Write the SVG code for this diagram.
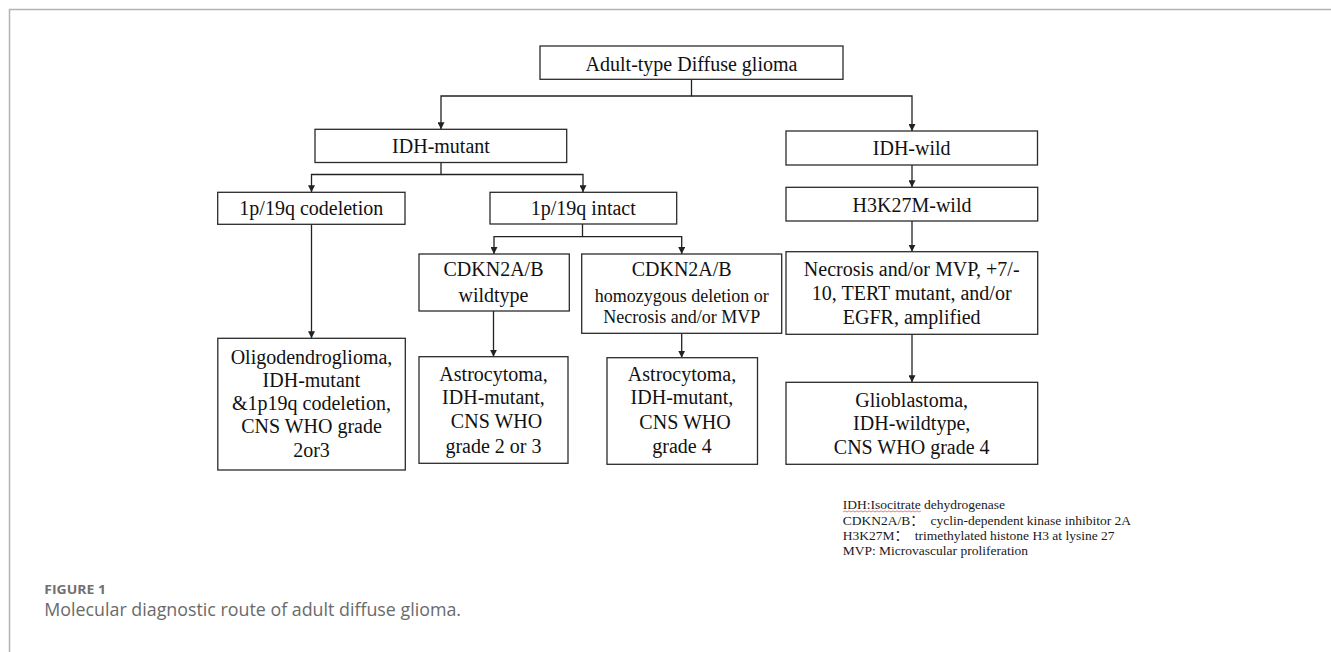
<svg xmlns="http://www.w3.org/2000/svg" width="1331" height="652" viewBox="0 0 1331 652">
  <style>
    .box { fill: #ffffff; stroke: #2b2b2b; stroke-width: 1.3; }
    .t { font-family: "Liberation Serif", "Times New Roman", serif; font-size: 20px; fill: #111; text-anchor: middle; }
    .ts { font-family: "Liberation Serif", "Times New Roman", serif; font-size: 18px; fill: #111; text-anchor: middle; }
    .leg { font-family: "Liberation Serif", "Noto Sans CJK SC", serif; font-size: 13.5px; fill: #1a1a1a; }
    .conn path { fill: none; stroke: #222; stroke-width: 1.3; marker-end: url(#arr); }
    .frame { fill: none; stroke: #b3b3b3; stroke-width: 1.5; }
  </style>
  <defs>
    <marker id="arr" viewBox="0 0 8 8" refX="8" refY="4" markerWidth="7" markerHeight="7" markerUnits="userSpaceOnUse" orient="auto">
      <path d="M0,0 L8,4 L0,8 z" fill="#222"/>
    </marker>
  </defs>
  <rect width="1331" height="652" fill="#ffffff"/>
  <path class="frame" d="M1331 9.5 H9.5 V652"/>

  <g id="connectors" class="conn">
    <path d="M691.5 79.5 V96 H441 V129.3"/>
    <path d="M691.5 96 H912 V131"/>
    <path d="M441 162.5 V174.5 H311.5 V192.3"/>
    <path d="M441 174.5 H583 V192.3"/>
    <path d="M311.5 224.3 V338.3"/>
    <path d="M582.5 224 V236.7 H494 V254"/>
    <path d="M582.5 236.7 H681.7 V254"/>
    <path d="M493.5 311 V356.7"/>
    <path d="M681.7 333.3 V357.7"/>
    <path d="M912 165 V187.3"/>
    <path d="M912 221 V251.7"/>
    <path d="M912 334.3 V382.3"/>
  </g>

  <g id="n-root">
    <rect class="box" x="540" y="46" width="303" height="33.3"/>
    <text class="t" x="691.5" y="71">Adult-type Diffuse glioma</text>
  </g>
  <g id="n-idh-mutant">
    <rect class="box" x="315" y="129.3" width="251.7" height="33.2"/>
    <text class="t" x="441" y="153">IDH-mutant</text>
  </g>
  <g id="n-idh-wild">
    <rect class="box" x="786" y="131" width="251.5" height="34"/>
    <text class="t" x="911.7" y="155">IDH-wild</text>
  </g>
  <g id="n-codeletion">
    <rect class="box" x="217.7" y="192.3" width="187.3" height="32"/>
    <text class="t" x="311.3" y="215">1p/19q codeletion</text>
  </g>
  <g id="n-intact">
    <rect class="box" x="490" y="192.3" width="186.7" height="31.7"/>
    <text class="t" x="583.3" y="215">1p/19q intact</text>
  </g>
  <g id="n-h3k27m">
    <rect class="box" x="786" y="187.3" width="251.7" height="33.7"/>
    <text class="t" x="912" y="211.7">H3K27M-wild</text>
  </g>
  <g id="n-cdkn-wild">
    <rect class="box" x="419" y="254" width="150.3" height="57"/>
    <text class="t" x="493.5" y="276">CDKN2A/B</text>
    <text class="t" x="493.5" y="301.7">wildtype</text>
  </g>
  <g id="n-cdkn-homo">
    <rect class="box" x="581.7" y="254" width="200" height="79.3"/>
    <text class="t" x="681.7" y="276">CDKN2A/B</text>
    <text class="ts" x="681.7" y="302">homozygous deletion or</text>
    <text class="ts" x="681.7" y="323.3">Necrosis and/or MVP</text>
  </g>
  <g id="n-necrosis">
    <rect class="box" x="786" y="251.7" width="251.7" height="82.6"/>
    <text class="t" x="911.7" y="276">Necrosis and/or MVP, +7/-</text>
    <text class="t" x="911.7" y="300">10, TERT mutant, and/or</text>
    <text class="t" x="911.7" y="324">EGFR, amplified</text>
  </g>
  <g id="n-oligo">
    <rect class="box" x="217.8" y="338.3" width="187.5" height="131.7"/>
    <text class="t" x="311.5" y="363.5">Oligodendroglioma,</text>
    <text class="t" x="311.5" y="386.8">IDH-mutant</text>
    <text class="t" x="311.5" y="410.1">&amp;1p19q codeletion,</text>
    <text class="t" x="311.5" y="433.4">CNS WHO grade</text>
    <text class="t" x="311.5" y="456.7">2or3</text>
  </g>
  <g id="n-astro-23">
    <rect class="box" x="419" y="356.7" width="149" height="106.6"/>
    <text class="t" x="493.5" y="380.7">Astrocytoma,</text>
    <text class="t" x="493.5" y="404">IDH-mutant,</text>
    <text class="t" x="496.5" y="428">CNS WHO</text>
    <text class="t" x="493.5" y="452.5">grade 2 or 3</text>
  </g>
  <g id="n-astro-4">
    <rect class="box" x="607" y="357.7" width="150.5" height="106.6"/>
    <text class="t" x="682" y="381">Astrocytoma,</text>
    <text class="t" x="682" y="404.3">IDH-mutant,</text>
    <text class="t" x="685" y="428.5">CNS WHO</text>
    <text class="t" x="682" y="453">grade 4</text>
  </g>
  <g id="n-glio">
    <rect class="box" x="786" y="382.3" width="251.7" height="82"/>
    <text class="t" x="911.7" y="406.7">Glioblastoma,</text>
    <text class="t" x="911.7" y="430">IDH-wildtype,</text>
    <text class="t" x="911.7" y="454">CNS WHO grade 4</text>
  </g>

  <g id="legend">
    <path d="M843 512 l2 -1.2 l2 1.2 l2 -1.2 l2 1.2 l2 -1.2 l2 1.2 l2 -1.2 l2 1.2 l2 -1.2 l2 1.2 l2 -1.2 l2 1.2 l2 -1.2 l2 1.2 l2 -1.2 l2 1.2 l2 -1.2 l2 1.2 l2 -1.2 l2 1.2 l2 -1.2 l2 1.2 l2 -1.2 l2 1.2 l2 -1.2 l2 1.2 l2 -1.2 l2 1.2 l2 -1.2 l2 1.2 l2 -1.2 l2 1.2 l2 -1.2 l2 1.2 l2 -1.2 l2 1.2 l2 -1.2 l2 1.2 l2 -1.2" fill="none" stroke="#e04040" stroke-width="0.7"/>
    <text class="leg" x="842.7" y="509.3">IDH:Isocitrate dehydrogenase</text>
    <text class="leg" x="842.7" y="525" xml:space="preserve">CDKN2A/B：  cyclin-dependent kinase inhibitor 2A</text>
    <text class="leg" x="842.7" y="540" xml:space="preserve">H3K27M：  trimethylated histone H3 at lysine 27</text>
    <text class="leg" x="842.7" y="555">MVP: Microvascular proliferation</text>
  </g>

  <g id="caption">
    <text x="44.3" y="594" font-family="'Open Sans', 'Noto Sans', sans-serif" font-size="12.5" font-weight="700" fill="#707070" textLength="61.7" lengthAdjust="spacingAndGlyphs">FIGURE 1</text>
    <text x="44.3" y="616" font-family="'Open Sans', 'Noto Sans', sans-serif" font-size="18" fill="#6a6a6a" textLength="416.7" lengthAdjust="spacingAndGlyphs">Molecular diagnostic route of adult diffuse glioma.</text>
  </g>
</svg>
